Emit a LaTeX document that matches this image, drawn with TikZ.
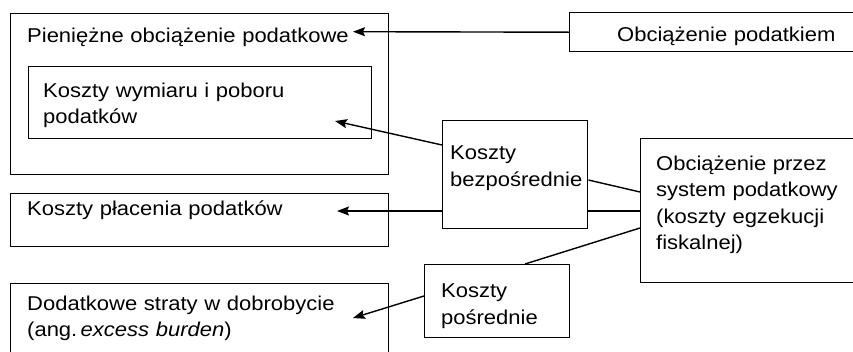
\documentclass[tikz,border=0pt]{standalone}
\usepackage{fontspec}
\setmainfont{Liberation Sans}[FakeStretch=1.1]
\usetikzlibrary{arrows.meta}
\begin{document}
\begin{tikzpicture}[x=1pt,y=-1pt,
  box/.style={draw,line width=1.4pt,inner sep=0pt,anchor=north west},
  lbl/.style={anchor=base west,inner sep=0pt,text width=330pt,align=left,
              font=\fontsize{20}{26.5}\selectfont},
  link/.style={line width=1.4pt},
  arr/.style={link,-{Stealth[length=12pt,width=9pt,inset=2pt]}}]
\useasboundingbox (0,0) rectangle (853,351);
\clip (0,0) rectangle (853,351);
\fill[white] (0,0) rectangle (853,351);

% boxes
\node[box,minimum width=378pt,minimum height=161pt] (money) at (10,13) {};
\node[box,minimum width=343pt,minimum height=72pt] (assess) at (28,66) {};
\node[box,minimum width=300pt,minimum height=39pt] (burden) at (569,12) {};
\node[box,minimum width=378pt,minimum height=53pt] (paying) at (10,193) {};
\node[box,minimum width=378pt,minimum height=80pt] (excess) at (10,283) {};
\node[box,minimum width=145pt,minimum height=108pt] (direct) at (442,120) {};
\node[box,minimum width=230pt,minimum height=144pt] (system) at (640,138) {};
\node[box,minimum width=145pt,minimum height=73pt] (indirect) at (424,264) {};

% labels
\node[lbl] (tmoney) at (27,42.5) {Pieniężne obciążenie podatkowe};
\node[lbl] (tassess) at (43,97) {Koszty wymiaru i poboru\\podatków};
\node[lbl] (tburden) at (617,41) {Obciążenie podatkiem};
\node[lbl] (tpaying) at (27,215) {Koszty płacenia podatków};
\node[lbl] (texcess) at (27,310) {Dodatkowe straty w dobrobycie\\(ang.\,\textit{excess burden})};
\node[lbl] (tdirect) at (450,159.5) {Koszty\\bezpośrednie};
\node[lbl] (tsystem) at (656,170) {Obciążenie przez\\system podatkowy\\(koszty egzekucji\\fiskalnej)};
\node[lbl] (tindirect) at (441,297.5) {Koszty\\pośrednie};

% arrow tips
\coordinate (tipA) at (353,31.7);
\coordinate (tipB) at (335,121);
\coordinate (tipC) at (337,211);
\coordinate (tipD) at (353,318);

% connectors
\draw[arr] (burden.west) -- (tipA);
\draw[arr] ([yshift=-25pt]direct.north west) -- (tipB);
\draw[link] ([yshift=-60pt]direct.north east) -- ([yshift=-54pt]system.north west);
\draw[link] (system.west |- tipC) -- (direct.east |- tipC);
\draw[arr] (direct.west |- tipC) -- (tipC);
\draw[link] ([yshift=-90pt]system.north west) -- ([xshift=101pt]indirect.north west);
\draw[arr] ([yshift=-32pt]indirect.north west) -- (tipD);
\end{tikzpicture}
\end{document}
